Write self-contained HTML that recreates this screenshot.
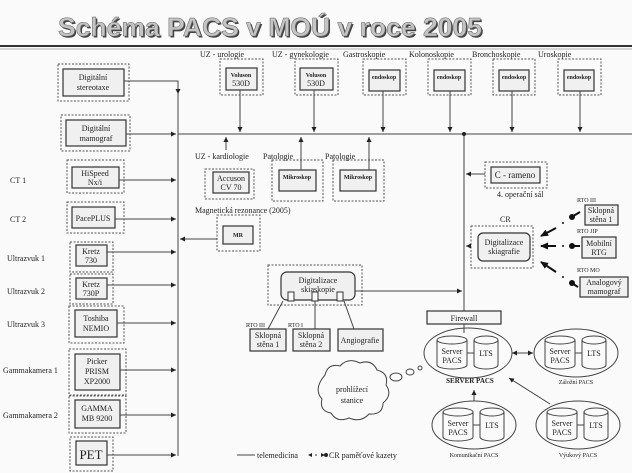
<!DOCTYPE html>
<html><head><meta charset="utf-8"><style>
html,body{margin:0;padding:0;background:#fafafa;}
svg{display:block;}
text{font-family:"Liberation Serif",serif;fill:#222;}
.t{font-size:8px;}
.s{font-size:6px;font-weight:bold;}
</style></head><body>
<svg width="632" height="473" viewBox="0 0 632 473" xmlns="http://www.w3.org/2000/svg">
<defs>
<marker id="a" markerWidth="6" markerHeight="6" refX="5" refY="3" orient="auto"><path d="M0,0.5 L5,3 L0,5.5 Z" fill="#222"/></marker>
<marker id="b" markerUnits="userSpaceOnUse" markerWidth="9" markerHeight="8" refX="7" refY="4" orient="auto"><path d="M0,0.5 L8,4 L0,7.5 Z" fill="#111"/></marker>
</defs>
<rect width="632" height="473" fill="#fafafa"/>
<text x="271.5" y="37.5" text-anchor="middle" textLength="424" lengthAdjust="spacingAndGlyphs" style="font-family:'Liberation Sans',sans-serif;font-size:26px;font-weight:bold;fill:#444">Schéma PACS v MOÚ v roce 2005</text>
<text x="270" y="36" text-anchor="middle" textLength="424" lengthAdjust="spacingAndGlyphs" style="font-family:'Liberation Sans',sans-serif;font-size:26px;font-weight:bold;fill:#c4c4c4;stroke:#666;stroke-width:0.5">Schéma PACS v MOÚ v roce 2005</text>
<line x1="0" y1="46" x2="632" y2="46" stroke="#333" stroke-width="2"/>
<line x1="0" y1="49" x2="632" y2="49" stroke="#999" stroke-width="0.7"/>

<g stroke="#444" stroke-width="1" fill="none">
<line x1="178" y1="81" x2="178" y2="456"/>
<line x1="178" y1="134" x2="632" y2="134"/>
<line x1="464" y1="134" x2="464" y2="311"/>
</g>
<circle cx="464" cy="134" r="2" fill="#222"/>

<g fill="none" stroke="#555" stroke-dasharray="2,1.5">
<rect x="58" y="64" width="71" height="37"/>
<rect x="61" y="115" width="69" height="36"/>
<rect x="67" y="160" width="57" height="33"/>
<rect x="67" y="202" width="57" height="31"/>
<rect x="70" y="242" width="43" height="30"/>
<rect x="70" y="274" width="43" height="30"/>
<rect x="69" y="306" width="55" height="37"/>
<rect x="69" y="349" width="57" height="46"/>
<rect x="69" y="396" width="57" height="37"/>
<rect x="70" y="437" width="43" height="34"/>
</g>
<g fill="#f0f0f0" stroke="#333" stroke-width="1.2">
<rect x="63" y="69" width="61" height="27"/>
<rect x="66" y="120" width="60" height="26"/>
<rect x="72" y="167" width="47" height="21"/>
<rect x="72" y="207" width="43" height="21"/>
<rect x="76" y="245" width="31" height="21"/>
<rect x="76" y="278" width="31" height="21"/>
<rect x="75" y="310" width="42" height="27"/>
<rect x="75" y="354" width="45" height="36"/>
<rect x="75" y="400" width="45" height="28"/>
<rect x="76" y="441" width="31" height="24"/>
</g>
<g class="t" text-anchor="middle">
<text x="93" y="80">Digitální</text><text x="93" y="90">stereotaxe</text>
<text x="96" y="131">Digitální</text><text x="96" y="141">mamograf</text>
<text x="95" y="176">HiSpeed</text><text x="95" y="185">Nx/i</text>
<text x="93" y="221">PacePLUS</text>
<text x="91" y="254">Kretz</text><text x="91" y="263">730</text>
<text x="91" y="287">Kretz</text><text x="91" y="296">730P</text>
<text x="96" y="321">Toshiba</text><text x="96" y="331">NEMIO</text>
<text x="97" y="364">Picker</text><text x="97" y="374">PRISM</text><text x="97" y="384">XP2000</text>
<text x="97" y="411">GAMMA</text><text x="97" y="421">MB 9200</text>
<text x="91" y="459" style="font-size:13px">PET</text>
</g>
<g class="t">
<text x="10" y="183">CT 1</text><text x="10" y="222">CT 2</text>
<text x="7" y="261">Ultrazvuk 1</text><text x="7" y="294">Ultrazvuk 2</text><text x="7" y="327">Ultrazvuk 3</text>
<text x="3" y="373">Gammakamera 1</text><text x="3" y="418">Gammakamera 2</text>
</g>
<g stroke="#444" fill="none" marker-end="url(#a)">
<polyline points="124,81 178,81 178,94" />
<line x1="126" y1="134" x2="176" y2="134"/>
<line x1="119" y1="180" x2="176" y2="180"/>
<line x1="115" y1="219" x2="176" y2="219"/>
<line x1="107" y1="252" x2="176" y2="252"/>
<line x1="107" y1="285" x2="176" y2="285"/>
<line x1="117" y1="323" x2="176" y2="323"/>
<line x1="120" y1="370" x2="176" y2="370"/>
<line x1="120" y1="415" x2="176" y2="415"/>
<line x1="107" y1="455" x2="176" y2="455"/>
<line x1="217" y1="239" x2="180" y2="239"/>
</g>

<g fill="none" stroke="#555" stroke-dasharray="2,1.5">
<rect x="220" y="59" width="43" height="36"/>
<rect x="295" y="59" width="43" height="36"/>
<rect x="363" y="59" width="43" height="36"/>
<rect x="428" y="59" width="43" height="36"/>
<rect x="493" y="59" width="42" height="36"/>
<rect x="558" y="59" width="43" height="36"/>
<rect x="205" y="169" width="49" height="30"/>
<rect x="272" y="160" width="51" height="41"/>
<rect x="333" y="160" width="51" height="41"/>
<rect x="217" y="215" width="43" height="36"/>
<rect x="485" y="162" width="62" height="26"/>
<rect x="471" y="226" width="62" height="42"/>
<rect x="268" y="265" width="94" height="40"/>
</g>
<g fill="#f0f0f0" stroke="#333" stroke-width="1.2">
<rect x="226" y="68" width="31" height="22"/>
<rect x="300" y="68" width="33" height="22"/>
<rect x="369" y="70" width="31" height="21"/>
<rect x="434" y="70" width="31" height="21"/>
<rect x="499" y="70" width="30" height="21"/>
<rect x="564" y="70" width="30" height="21"/>
<rect x="213" y="172" width="36" height="21"/>
<rect x="279" y="170" width="37" height="21"/>
<rect x="340" y="170" width="36" height="21"/>
<rect x="223" y="226" width="30" height="18"/>
<rect x="491" y="167" width="49" height="16"/>
<rect x="478" y="233" width="52" height="28" rx="5"/>
<rect x="281" y="272" width="74" height="28" rx="6"/>
<rect x="250" y="329" width="36" height="22"/>
<rect x="293" y="329" width="37" height="22"/>
<rect x="338" y="329" width="45" height="22"/>
<rect x="585" y="205" width="33" height="20"/>
<rect x="582" y="237" width="34" height="21"/>
<rect x="580" y="277" width="48" height="20"/>
<rect x="427" y="311" width="74" height="13" fill="#f6f6f6"/>
</g>
<g fill="#fafafa" stroke="#333"><rect x="288" y="292" width="6" height="9"/><rect x="312" y="292" width="6" height="9"/><rect x="337" y="292" width="6" height="9"/></g>
<g stroke="#444" fill="none" marker-end="url(#a)">
<line x1="240" y1="90" x2="240" y2="132"/>
<line x1="314" y1="90" x2="314" y2="132"/>
<line x1="383" y1="91" x2="383" y2="132"/>
<line x1="450" y1="91" x2="450" y2="132"/>
<line x1="512" y1="91" x2="512" y2="132"/>
<line x1="580" y1="91" x2="580" y2="132"/>
<line x1="226" y1="150" x2="226" y2="137"/>
<line x1="301" y1="170" x2="301" y2="137"/>
<line x1="369" y1="170" x2="369" y2="137"/>
<line x1="485" y1="174" x2="466" y2="174"/>
<line x1="471" y1="246" x2="466" y2="246"/>
<line x1="355" y1="291" x2="462" y2="291"/>
</g>
<g stroke="#444" fill="none">
<line x1="464" y1="324" x2="464" y2="333"/>
<line x1="283" y1="301" x2="268" y2="329"/>
<line x1="315" y1="301" x2="315" y2="329"/>
<line x1="344" y1="301" x2="354" y2="329"/>
</g>
<g class="t">
<text x="200" y="57">UZ - urologie</text><text x="272" y="57">UZ - gynekologie</text><text x="343" y="57">Gastroskopie</text>
<text x="409" y="57">Kolonoskopie</text><text x="472" y="57">Bronchoskopie</text><text x="538" y="57">Uroskopie</text>
<text x="195" y="159">UZ - kardiologie</text><text x="263" y="159">Patologie</text><text x="325" y="159">Patologie</text>
<text x="195" y="213">Magnetická rezonance (2005)</text>
<text x="497" y="197">4. operační sál</text>
<text x="500" y="222">CR</text>
</g>
<g class="s" text-anchor="middle">
<text x="241" y="77">Voluson</text><text x="241" y="86" style="font-size:8px;font-weight:normal">530D</text>
<text x="316" y="77">Voluson</text><text x="316" y="86" style="font-size:8px;font-weight:normal">530D</text>
<text x="384" y="79">endoskop</text><text x="449" y="79">endoskop</text><text x="514" y="79">endoskop</text><text x="579" y="79">endoskop</text>
<text x="297" y="179">Mikroskop</text><text x="358" y="179">Mikroskop</text>
<text x="238" y="237">MR</text>
</g>
<g class="t" text-anchor="middle">
<text x="231" y="181">Accuson</text><text x="231" y="190">CV 70</text>
<text x="515" y="178" style="font-size:9px">C - rameno</text>
<text x="504" y="245">Digitalizace</text><text x="504" y="254">skiagrafie</text>
<text x="318" y="283">Digitalizace</text><text x="318" y="292">skiaskopie</text>
<text x="268" y="338">Sklopná</text><text x="268" y="347">stěna 1</text>
<text x="311" y="338">Sklopná</text><text x="311" y="347">stěna 2</text>
<text x="360" y="343">Angiografie</text>
<text x="601" y="213">Sklopná</text><text x="601" y="222">stěna 1</text>
<text x="599" y="246">Mobilní</text><text x="599" y="255">RTG</text>
<text x="604" y="285">Analogový</text><text x="604" y="294">mamograf</text>
<text x="464" y="321">Firewall</text>
</g>
<g style="font-size:6px" >
<text x="246" y="327">RTO III</text><text x="288" y="327">RTO I</text>
<text x="577" y="202">RTO III</text><text x="577" y="233">RTO JIP</text><text x="577" y="272">RTO MO</text>
</g>
<g stroke="#111" stroke-width="2" fill="none">
<line x1="580" y1="212" x2="570" y2="218"/><line x1="556" y1="228" x2="541" y2="236" marker-end="url(#b)"/>
<line x1="580" y1="246" x2="570" y2="246"/><line x1="556" y1="246" x2="541" y2="246" marker-end="url(#b)"/>
<line x1="578" y1="287" x2="570" y2="282"/><line x1="556" y1="272" x2="541" y2="262" marker-end="url(#b)"/>
</g>
<g fill="#111"><circle cx="572" cy="217" r="3"/><circle cx="572" cy="246" r="3"/><circle cx="572" cy="283" r="3"/>
<circle cx="563" cy="223" r="1"/><circle cx="563" cy="246" r="1"/><circle cx="563" cy="277" r="1"/></g>

<g fill="none" stroke="#444">
<ellipse cx="468" cy="353" rx="44" ry="25"/>
<ellipse cx="576" cy="353" rx="42" ry="24"/>
<ellipse cx="474" cy="425" rx="42" ry="24"/>
<ellipse cx="578" cy="425" rx="42" ry="24"/>
</g>
<g stroke="#444" fill="#fafafa">
<g id="c1"><path d="M437,340 v25 a15,4 0 0 0 30,0 v-25"/><ellipse cx="452" cy="340" rx="15" ry="4"/><line x1="467" y1="353" x2="474" y2="353"/><path d="M474,340 v25 a12,4 0 0 0 24,0 v-25"/><ellipse cx="486" cy="340" rx="12" ry="4"/></g>
<use href="#c1" transform="translate(108,0)"/>
<use href="#c1" transform="translate(6,72)"/>
<use href="#c1" transform="translate(110,72)"/>
</g>
<g class="t" text-anchor="middle" style="fill:#444">
<text x="452" y="354">Server</text><text x="452" y="363">PACS</text><text x="486" y="356">LTS</text>
<text x="560" y="354">Server</text><text x="560" y="363">PACS</text><text x="594" y="356">LTS</text>
<text x="458" y="426">Server</text><text x="458" y="435">PACS</text><text x="492" y="428">LTS</text>
<text x="562" y="426">Server</text><text x="562" y="435">PACS</text><text x="596" y="428">LTS</text>
</g>
<text x="470" y="383" text-anchor="middle" style="font-size:7px;font-weight:bold">SERVER PACS</text>
<g style="font-size:6px" text-anchor="middle"><text x="576" y="384">Záložní PACS</text><text x="474" y="457">Komunikační PACS</text><text x="578" y="457">Výukový PACS</text></g>
<g stroke="#444" fill="none">
<line x1="514" y1="353" x2="533" y2="353" marker-end="url(#a)"/>
<line x1="525" y1="353" x2="512" y2="353" marker-end="url(#a)"/>
<line x1="474" y1="401" x2="474" y2="390" marker-end="url(#a)"/>
<line x1="550" y1="404" x2="509" y2="378" marker-end="url(#a)"/>
</g>
<path d="M325,375 q3,-12 15,-9 q8,-9 20,-3 q12,-4 17,7 q12,3 9,15 q7,10 -3,18 q0,12 -14,11 q-8,9 -20,4 q-12,5 -18,-5 q-12,-2 -9,-14 q-9,-10 3,-24 z" fill="#fafafa" stroke="#444"/>
<text x="352" y="392" class="t" text-anchor="middle">prohlížecí</text><text x="352" y="403" class="t" text-anchor="middle">stanice</text>
<g fill="none" stroke="#444"><ellipse cx="396" cy="377" rx="6" ry="4"/><ellipse cx="410" cy="372" rx="4" ry="3"/><ellipse cx="420" cy="368" rx="2" ry="2"/></g>
<line x1="237" y1="455" x2="255" y2="455" stroke="#444"/>
<text x="257" y="458" class="t">telemedicína</text>
<path d="M308,455 l4,-2 v4 z M325,455 l-4,-2 v4 z" fill="#222"/>
<circle cx="326" cy="455" r="2" fill="#222"/><circle cx="316" cy="455" r="0.8" fill="#222"/>
<text x="329" y="458" class="t">CR paměťové kazety</text>
</svg>
</body></html>
